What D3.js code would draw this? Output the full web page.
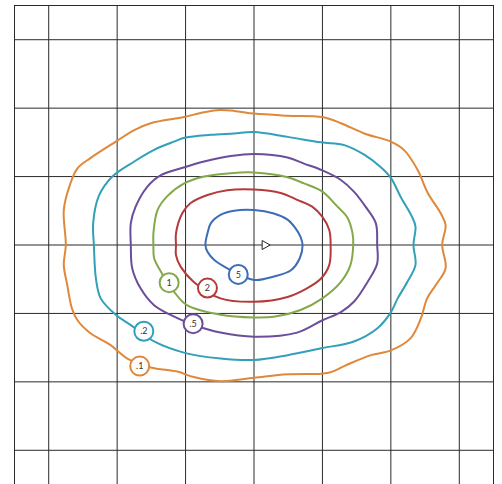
<!DOCTYPE html>
<html>
<head>
<meta charset="utf-8">
<script src="https://cdn.jsdelivr.net/npm/d3@7"></script>
<style>
  html, body { margin: 0; padding: 0; background: #fff; }
  svg { display: block; }
</style>
</head>
<body>
<div id="chart"></div>
<script>
// contour levels, colours and label spots (data units, grid = 1)
const levels = ['.1', '.2', '.5', '1', '2', '5'];
const colors = ['#e0883a', '#31a0b8', '#6b4d9a', '#84a84a', '#b53a3a', '#3d6db5'];
const labelPos = [[-1.67, -1.77], [-1.61, -1.26], [-0.89, -1.15], [-1.24, -0.55], [-0.68, -0.63], [-0.23, -0.43]];
const gridTicks = [-3, -2, -1, 0, 1, 2, 3];
const marker = [0.17, 0];

const c01 = [[-2.75,0],[-2.78,0.51],[-2.70,0.85],[-2.58,1.12],[-2.39,1.27],[-2.02,1.51],[-1.75,1.68],[-1.51,1.78],
  [-1.02,1.87],[-0.78,1.93],[-0.54,1.97],[-0.29,1.96],[0,1.92],[0.49,1.89],[1.00,1.87],[1.27,1.78],[1.61,1.63],
  [2.00,1.51],[2.19,1.39],[2.39,1.10],[2.54,0.76],[2.73,0.46],[2.80,0.29],[2.75,0],[2.80,-0.34],[2.66,-0.58],
  [2.53,-0.78],[2.44,-1.07],[2.29,-1.36],[2.00,-1.54],[1.71,-1.61],[1.36,-1.75],[1.12,-1.86],[0.98,-1.88],
  [0.49,-1.89],[0,-1.94],[-0.49,-1.99],[-0.88,-1.93],[-1.12,-1.85],[-1.51,-1.79],[-1.85,-1.66],[-2.10,-1.46],
  [-2.39,-1.29],[-2.58,-1.10],[-2.66,-0.93],[-2.73,-0.58],[-2.78,-0.29]];
const c02 = [[-2.34,0],[-2.35,0.32],[-2.27,0.71],[-2.07,1.00],[-1.75,1.22],[-1.46,1.39],[-1.17,1.51],[-1.00,1.57],
  [-0.63,1.61],[-0.29,1.63],[0,1.65],[0.49,1.58],[0.98,1.50],[1.32,1.46],[1.61,1.32],[1.85,1.14],[2.00,0.98],
  [2.14,0.71],[2.31,0.41],[2.36,0.27],[2.33,0],[2.36,-0.29],[2.24,-0.54],[2.10,-0.78],[1.99,-1.00],[1.80,-1.22],
  [1.46,-1.41],[0.98,-1.51],[0.49,-1.61],[0,-1.68],[-0.49,-1.66],[-1.00,-1.58],[-1.46,-1.41],[-1.80,-1.17],
  [-2.02,-1.02],[-2.24,-0.78],[-2.31,-0.49]];
const c05 = [[-1.80,0],[-1.80,0.32],[-1.73,0.56],[-1.56,0.85],[-1.36,1.02],[-1.00,1.14],[-0.73,1.22],[-0.34,1.30],
  [0,1.33],[0.49,1.28],[0.73,1.19],[1.00,1.09],[1.27,0.95],[1.46,0.78],[1.63,0.56],[1.78,0.32],[1.80,0],
  [1.80,-0.27],[1.66,-0.54],[1.46,-0.83],[1.27,-0.98],[1.00,-1.10],[0.63,-1.28],[0,-1.34],[-0.49,-1.28],
  [-0.88,-1.17],[-1.12,-1.07],[-1.46,-0.88],[-1.66,-0.63],[-1.78,-0.34]];
const c1 = [[-1.47,0],[-1.47,0.17],[-1.41,0.51],[-1.27,0.71],[-1.02,0.90],[-0.73,1.00],[-0.34,1.05],[0,1.06],
  [0.49,0.99],[0.73,0.90],[1.00,0.78],[1.22,0.56],[1.36,0.41],[1.44,0.17],[1.45,0],[1.41,-0.29],[1.27,-0.54],
  [1.00,-0.78],[0.68,-0.95],[0.29,-1.05],[0,-1.06],[-0.49,-1.02],[-0.98,-0.88],[-1.17,-0.68],[-1.36,-0.39],[-1.46,-0.19]];
const c2 = [[-1.14,0],[-1.14,0.17],[-1.05,0.46],[-0.93,0.61],[-0.68,0.73],[-0.39,0.80],[0,0.81],[0.39,0.76],
  [0.63,0.66],[0.85,0.56],[1.00,0.41],[1.10,0.22],[1.12,0],[1.10,-0.29],[0.98,-0.49],[0.78,-0.63],[0.49,-0.76],
  [0,-0.83],[-0.49,-0.78],[-0.88,-0.54],[-1.07,-0.32],[-1.14,-0.15]];
const c5 = [[-0.71,0],[-0.68,0.17],[-0.63,0.32],[-0.49,0.44],[-0.29,0.50],[0,0.51],[0.29,0.46],[0.49,0.37],
  [0.61,0.24],[0.68,0.12],[0.71,0],[0.67,-0.19],[0.54,-0.37],[0.29,-0.46],[0,-0.51],[-0.39,-0.34],[-0.58,-0.22],[-0.68,-0.10]];
const contours = [c01, c02, c05, c1, c2, c5];

const W = 502, H = 484;
const x = d3.scaleLinear().domain([-3.5, 3.5]).range([14.5, 493.5]);
const y = d3.scaleLinear().domain([-3.5, 3.5]).range([484.5, 5.5]);

const svg = d3.select('#chart').append('svg').attr('width', W).attr('height', H);

// grid
const g = svg.append('g').attr('stroke', '#2a2a2a').attr('stroke-width', 1).attr('fill', 'none');
gridTicks.forEach(t => {
  g.append('line').attr('x1', x(t)).attr('x2', x(t)).attr('y1', y(3.5)).attr('y2', y(-3.5));
  g.append('line').attr('y1', y(t)).attr('y2', y(t)).attr('x1', x(-3.5)).attr('x2', x(3.5));
});
g.append('rect').attr('x', x(-3.5)).attr('y', y(3.5))
  .attr('width', x(3.5) - x(-3.5)).attr('height', y(-3.5) - y(3.5));

// contours
const line = d3.line().x(d => x(d[0])).y(d => y(d[1])).curve(d3.curveCatmullRomClosed.alpha(0.5));
contours.forEach((c, i) => {
  svg.append('path').attr('d', line(c)).attr('fill', 'none')
    .attr('stroke', colors[i]).attr('stroke-width', 2).attr('stroke-linejoin', 'round');
});

// marker
const tx = x(marker[0]), ty = y(marker[1]);
svg.append('path').attr('d', `M${tx - 3.5},${ty - 4.5}L${tx + 4.5},${ty}L${tx - 3.5},${ty + 4.5}Z`)
  .attr('fill', '#fff').attr('stroke', '#222').attr('stroke-width', 1);

// labels
levels.forEach((lv, i) => {
  const lx = x(labelPos[i][0]), ly = y(labelPos[i][1]);
  svg.append('circle').attr('cx', lx).attr('cy', ly).attr('r', 9.5)
    .attr('fill', '#fff').attr('stroke', colors[i]).attr('stroke-width', 2);
  svg.append('text').attr('x', lx).attr('y', ly + 3.2).attr('text-anchor', 'middle')
    .attr('font-family', 'Lato, sans-serif').attr('font-size', 9).attr('fill', '#333').text(lv);
});
</script>
</body>
</html>
